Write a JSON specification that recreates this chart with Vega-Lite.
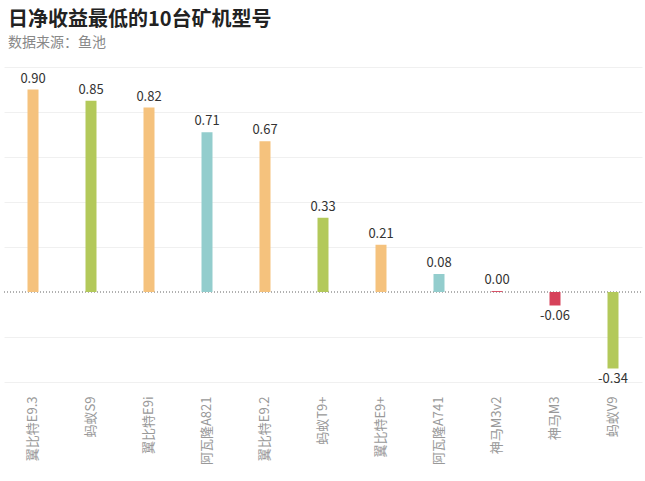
{
  "$schema": "https://vega.github.io/schema/vega-lite/v6.json",
  "width": 638,
  "height": 315,
  "autosize": {"type": "none"},
  "padding": {"left": 4, "top": 67, "right": 3, "bottom": 99},
  "background": "white",
  "config": {
    "font": "Noto Sans CJK SC",
    "view": {"stroke": null}
  },
  "title": {
    "text": "日净收益最低的10台矿机型号",
    "subtitle": "数据来源：鱼池",
    "anchor": "start",
    "frame": "group",
    "dx": 4,
    "offset": 17,
    "fontSize": 20,
    "fontWeight": "bold",
    "color": "#222222",
    "subtitleFontSize": 14,
    "subtitleColor": "#888888",
    "subtitlePadding": 6,
    "font": "Noto Sans CJK SC",
    "subtitleFont": "Noto Sans CJK SC"
  },
  "data": {
    "values": [
      {"model": "翼比特E9.3", "brand": "翼比特", "value": 0.90, "label": "0.90"},
      {"model": "蚂蚁S9", "brand": "蚂蚁", "value": 0.85, "label": "0.85"},
      {"model": "翼比特E9i", "brand": "翼比特", "value": 0.82, "label": "0.82"},
      {"model": "阿瓦隆A821", "brand": "阿瓦隆", "value": 0.71, "label": "0.71"},
      {"model": "翼比特E9.2", "brand": "翼比特", "value": 0.67, "label": "0.67"},
      {"model": "蚂蚁T9+", "brand": "蚂蚁", "value": 0.33, "label": "0.33"},
      {"model": "翼比特E9+", "brand": "翼比特", "value": 0.21, "label": "0.21"},
      {"model": "阿瓦隆A741", "brand": "阿瓦隆", "value": 0.08, "label": "0.08"},
      {"model": "神马M3v2", "brand": "神马", "value": 0.004, "label": "0.00"},
      {"model": "神马M3", "brand": "神马", "value": -0.06, "label": "-0.06"},
      {"model": "蚂蚁V9", "brand": "蚂蚁", "value": -0.34, "label": "-0.34"}
    ]
  },
  "encoding": {
    "x": {
      "field": "model",
      "type": "nominal",
      "sort": null,
      "scale": {"paddingInner": 0, "paddingOuter": 0},
      "axis": {
        "title": null,
        "labelAngle": -90,
        "labelAlign": "right",
        "labelBaseline": "middle",
        "labelPadding": 14,
        "labelFontSize": 13,
        "labelColor": "#999999",
        "domain": false,
        "ticks": false,
        "grid": false
      }
    },
    "y": {
      "field": "value",
      "type": "quantitative",
      "scale": {"domain": [-0.4, 1.0], "nice": false, "zero": true},
      "axis": {
        "title": null,
        "values": [-0.4, -0.2, 0.2, 0.4, 0.6, 0.8, 1.0],
        "labels": false,
        "ticks": false,
        "domain": false,
        "grid": true,
        "gridColor": "#f0f0f0",
        "gridWidth": 1
      }
    }
  },
  "layer": [
    {
      "mark": {"type": "rule", "color": "#b0b0b0", "strokeDash": [1, 2], "strokeWidth": 1},
      "encoding": {"y": {"datum": 0}, "x": {"value": 0}, "x2": {"value": 638}}
    },
    {
      "mark": {"type": "bar", "size": 11},
      "encoding": {
        "color": {
          "field": "brand",
          "type": "nominal",
          "scale": {
            "domain": ["翼比特", "蚂蚁", "阿瓦隆", "神马"],
            "range": ["#F5C27D", "#B3C95A", "#93CDCD", "#D6425A"]
          },
          "legend": null
        }
      }
    },
    {
      "transform": [{"filter": "datum.value >= 0"}],
      "mark": {"type": "text", "baseline": "bottom", "dy": -4, "fontSize": 13, "color": "#333333"},
      "encoding": {"text": {"field": "label"}}
    },
    {
      "transform": [{"filter": "datum.value < 0"}],
      "mark": {"type": "text", "baseline": "top", "dy": 4, "fontSize": 13, "color": "#333333"},
      "encoding": {"text": {"field": "label"}}
    }
  ]
}
